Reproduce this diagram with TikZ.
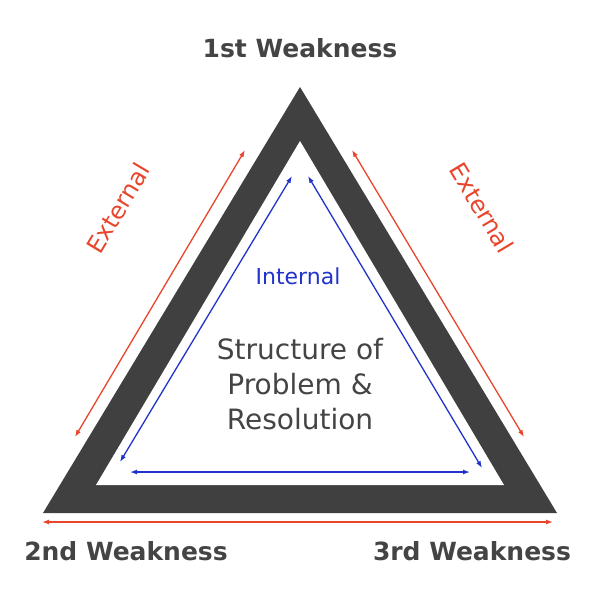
\documentclass[tikz,border=0pt]{standalone}
\usepackage{fontspec}
\setmainfont{DejaVu Sans}
\usetikzlibrary{arrows.meta}
\begin{document}
\begin{tikzpicture}[x=1pt,y=-1pt,
  redarr/.style={draw=extred,line width=1.3pt,{Latex[length=7pt,width=5pt]}-{Latex[length=7pt,width=5pt]}},
  bluearr/.style={draw=intblue,line width=1.3pt,{Latex[length=7pt,width=5pt]}-{Latex[length=7pt,width=5pt]}},
  lbl/.style={font=\fontsize{25}{29}\selectfont\bfseries,text=txtgrey}]
\definecolor{extred}{HTML}{E8452C}
\definecolor{intblue}{HTML}{2233CC}
\definecolor{txtgrey}{HTML}{444444}
\definecolor{trigrey}{HTML}{404040}
\useasboundingbox (0,0) rectangle (600,600);
\fill[trigrey] (300,87) -- (557,513) -- (43,513) -- cycle;
\fill[white] (300,141) -- (504,485) -- (96,485) -- cycle;
\coordinate (r1a) at (75,437); \coordinate (r1b) at (245,150);
\coordinate (r2a) at (352,150); \coordinate (r2b) at (524,437);
\coordinate (r3a) at (42,522); \coordinate (r3b) at (553,522);
\coordinate (b1a) at (120,462); \coordinate (b1b) at (292,176);
\coordinate (b2a) at (308,176); \coordinate (b2b) at (482,468);
\coordinate (b3a) at (130,472); \coordinate (b3b) at (470,472);
\draw[redarr] (r1a) -- (r1b);
\draw[redarr] (r2a) -- (r2b);
\draw[redarr] (r3a) -- (r3b);
\draw[bluearr] (b1a) -- (b1b);
\draw[bluearr] (b2a) -- (b2b);
\draw[bluearr] (b3a) -- (b3b);
\node[lbl] (w1) at (300,48) {1st Weakness};
\node[lbl] (w2) at (126,551) {2nd Weakness};
\node[lbl] (w3) at (472,551) {3rd Weakness};
\node[text=extred,font=\fontsize{24}{28}\selectfont,rotate=59,inner sep=0pt] (e1) at (118,208) {External};
\node[text=extred,font=\fontsize{24}{28}\selectfont,rotate=-59,inner sep=0pt] (e2) at (482,208) {External};
\node[text=intblue,font=\fontsize{22}{26}\selectfont] (int) at (298,276) {Internal};
\node[text=txtgrey,font=\fontsize{28}{35}\selectfont,align=center] (c) at (300,384) {Structure of\\Problem \&\\Resolution};
\end{tikzpicture}
\end{document}
